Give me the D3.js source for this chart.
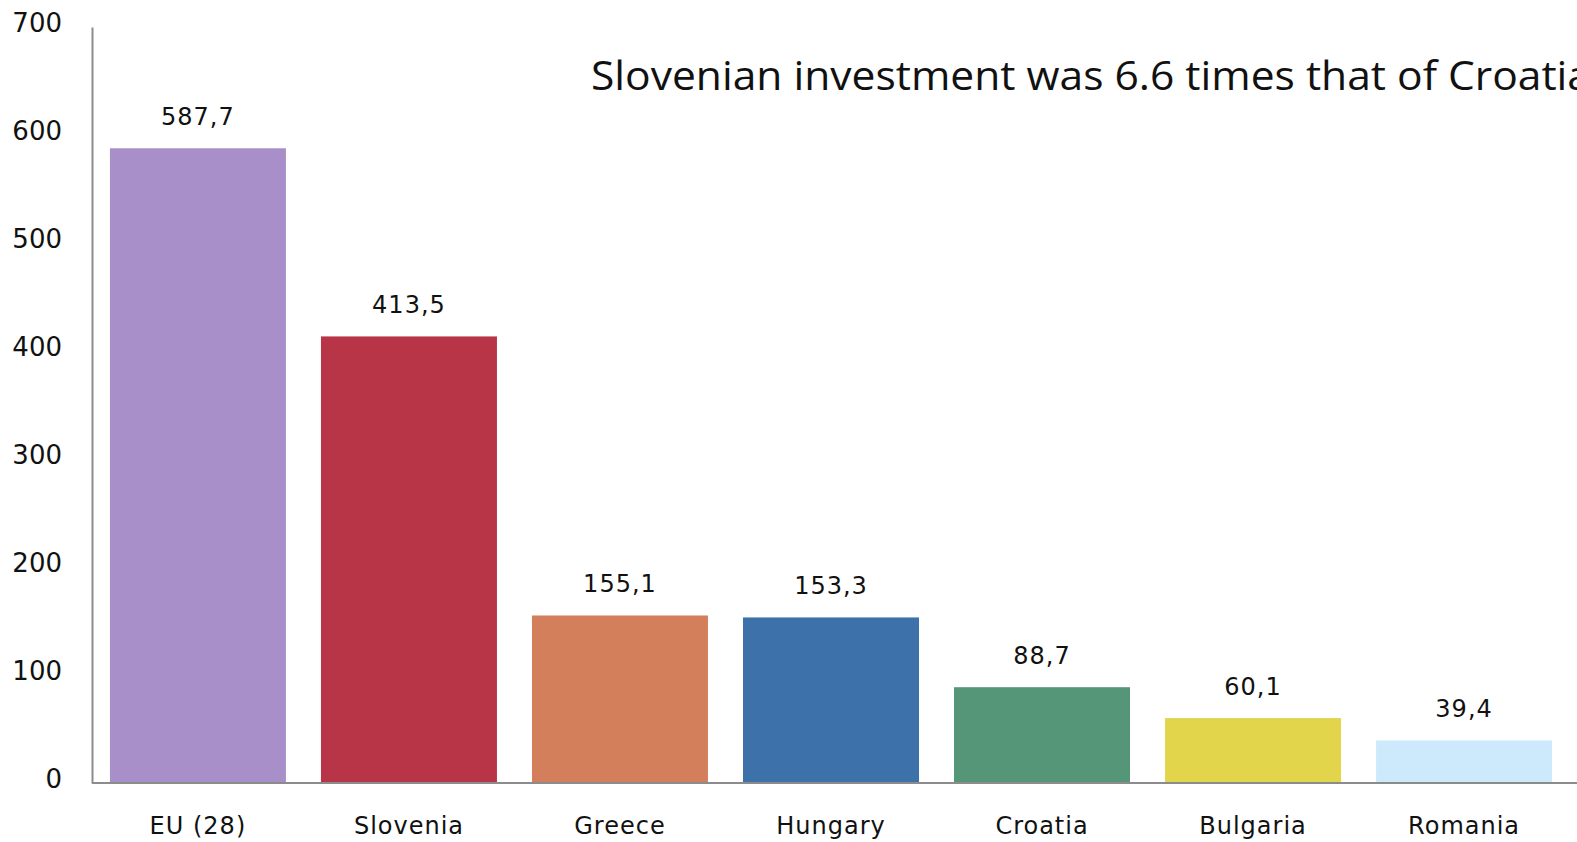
<!DOCTYPE html>
<html>
<head>
<meta charset="utf-8">
<script src="https://cdn.jsdelivr.net/npm/d3@7"></script>
<style>
  body { margin: 0; background: #fff; overflow: hidden; }
  text { font-family: "DejaVu Sans", sans-serif; fill: #111; }
</style>
</head>
<body>
<div id="chart"></div>
<script>
// Data
var countries = ["EU (28)", "Slovenia", "Greece", "Hungary", "Croatia", "Bulgaria", "Romania"];
var values = [587.7, 413.5, 155.1, 153.3, 88.7, 60.1, 39.4];
var colors = ["#a98fc9", "#b83548", "#d47f5b", "#3d71a9", "#549677", "#e2d54b", "#cdeafc"];
var yTicks = [0, 100, 200, 300, 400, 500, 600, 700];
var title = "Slovenian investment was 6.6 times that of Croatia";

var svgWidth = 1577;
var svgHeight = 842;

var svg = d3.select("#chart")
  .append("svg")
  .attr("width", svgWidth)
  .attr("height", svgHeight);

// scales
var xScale = d3.scaleBand()
  .domain(countries)
  .range([92, 1570])
  .paddingInner(0.166)
  .paddingOuter(0.085);

var yScale = d3.scaleLinear()
  .domain([0, 700])
  .range([783, 27]);

// bars
svg.selectAll("rect.bar")
  .data(values)
  .enter()
  .append("rect")
  .attr("class", "bar")
  .attr("x", (d, i) => xScale(countries[i]))
  .attr("y", d => yScale(d))
  .attr("width", xScale.bandwidth())
  .attr("height", d => yScale(0) - yScale(d))
  .attr("fill", (d, i) => colors[i]);

// value labels
svg.selectAll("text.val")
  .data(values)
  .enter()
  .append("text")
  .attr("class", "val")
  .attr("x", (d, i) => xScale(countries[i]) + xScale.bandwidth() / 2)
  .attr("y", d => yScale(d) - 23)
  .attr("text-anchor", "middle")
  .style("font-size", "24px")
  .style("letter-spacing", "1px")
  .text(d => d3.format(".1f")(d).replace(".", ","));

// y axis
var leftAxis = d3.axisLeft(yScale)
  .tickValues(yTicks)
  .tickSize(0)
  .tickPadding(30);

var yAxis = svg.append("g")
  .attr("transform", "translate(92, 0)")
  .call(leftAxis);
yAxis.select(".domain").attr("stroke", "#8c8c8c").attr("stroke-width", 2);
yAxis.selectAll("text")
  .attr("dy", "0.32em")
  .attr("y", -4)
  .style("font-size", "26px")
  .style("font-family", "DejaVu Sans, sans-serif")
  .attr("fill", "#111");

// x axis
var bottomAxis = d3.axisBottom(xScale)
  .tickSize(0)
  .tickPadding(34)
  .tickSizeOuter(0);

var xAxis = svg.append("g")
  .attr("transform", "translate(0, 783)")
  .call(bottomAxis);
xAxis.select(".domain")
  .attr("d", "M92,0H1577")
  .attr("stroke", "#8c8c8c")
  .attr("stroke-width", 2);
xAxis.selectAll("text")
  .style("font-size", "24px")
  .style("letter-spacing", "1px")
  .style("font-family", "DejaVu Sans, sans-serif")
  .attr("fill", "#111");

// title
svg.append("text")
  .attr("x", 591)
  .attr("y", 90)
  .style("font-family", "Open Sans, sans-serif")
  .style("font-size", "41px")
  .attr("textLength", 1000)
  .attr("lengthAdjust", "spacingAndGlyphs")
  .text(title);
</script>
</body>
</html>
